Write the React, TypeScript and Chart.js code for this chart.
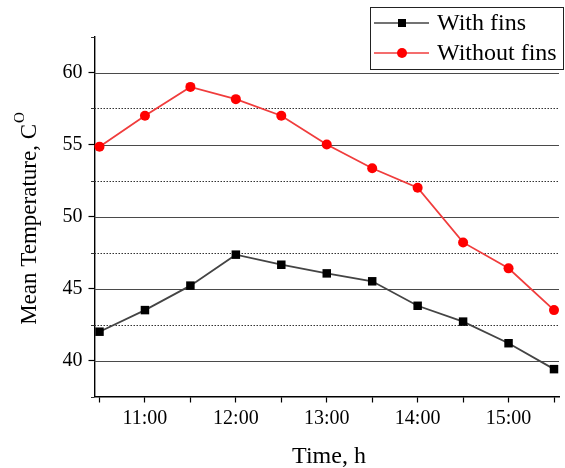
import React, { useEffect, useRef } from "react";
import { Chart, registerables } from "chart.js";

Chart.register(...registerables);

const FONT = '"Liberation Serif", "Times New Roman", serif';

// Data
const timeHours = [10.5, 11, 11.5, 12, 12.5, 13, 13.5, 14, 14.5, 15, 15.5];
const withFins = [42.0, 43.5, 45.2, 47.35, 46.65, 46.05, 45.5, 43.8, 42.7, 41.2, 39.4];
const withoutFins = [54.85, 57.0, 59.0, 58.15, 57.0, 55.0, 53.35, 52.0, 48.2, 46.4, 43.5];
const seriesNames = ["With fins", "Without fins"];
const yMajorTicks = [40, 45, 50, 55, 60];
const yMinorTicks = [37.5, 42.5, 47.5, 52.5, 57.5, 62.5];
const xTitle = "Time, h";
const yTitle = "Mean Temperature, C";
const yTitleSup = "O";

const BLACK_LINE = "#444444";
const RED_LINE = "#f03c3c";

const gridPlugin = {
  id: "customGrid",
  beforeDatasetsDraw(chart: any) {
    const { ctx, chartArea } = chart;
    const y = chart.scales.y;
    ctx.save();
    // major solid
    ctx.lineWidth = 1.2;
    ctx.strokeStyle = "#4a4a4a";
    ctx.setLineDash([]);
    for (const v of yMajorTicks) {
      const py = Math.round(y.getPixelForValue(v)) + 0.5;
      ctx.beginPath();
      ctx.moveTo(chartArea.left, py);
      ctx.lineTo(chartArea.right, py);
      ctx.stroke();
    }
    // minor dotted
    ctx.lineWidth = 1;
    ctx.strokeStyle = "#333333";
    for (const v of yMinorTicks) {
      const py = Math.round(y.getPixelForValue(v)) + 0.5;
      if (v > 37.6 && v < 62.4) {
        ctx.setLineDash([1.5, 1.5]);
        ctx.beginPath();
        ctx.moveTo(chartArea.left, py);
        ctx.lineTo(chartArea.right, py);
        ctx.stroke();
      }
      ctx.setLineDash([]);
      ctx.beginPath();
      ctx.moveTo(chartArea.left - 3.5, py);
      ctx.lineTo(chartArea.left, py);
      ctx.stroke();
    }
    ctx.restore();
  },
  afterDraw(chart: any) {
    const { ctx } = chart;
    ctx.save();
    ctx.fillStyle = "#000";
    // x title
    ctx.font = `24px ${FONT}`;
    ctx.textAlign = "center";
    ctx.textBaseline = "alphabetic";
    ctx.fillText(xTitle, 329, 463);
    // y title with superscript
    ctx.font = `23px ${FONT}`;
    const wMain = ctx.measureText(yTitle).width;
    ctx.font = `15px ${FONT}`;
    const wSup = ctx.measureText(yTitleSup).width;
    const total = wMain + wSup + 1;
    ctx.translate(36, 218.5);
    ctx.rotate(-Math.PI / 2);
    ctx.textAlign = "left";
    ctx.font = `23px ${FONT}`;
    ctx.fillText(yTitle, -total / 2, 0);
    ctx.font = `15px ${FONT}`;
    ctx.fillText(yTitleSup, -total / 2 + wMain + 1, -12);
    ctx.restore();

    // legend
    ctx.save();
    const bx = 370.5, by = 7.5, bw = 193, bh = 62;
    ctx.fillStyle = "#fff";
    ctx.fillRect(bx, by, bw, bh);
    ctx.strokeStyle = "#222";
    ctx.lineWidth = 1;
    ctx.strokeRect(bx, by, bw, bh);
    const rows = [
      { name: seriesNames[0], color: BLACK_LINE, marker: "rect", mcolor: "#000", cy: 23 },
      { name: seriesNames[1], color: RED_LINE, marker: "circle", mcolor: "#ff0000", cy: 53 },
    ];
    for (const r of rows) {
      ctx.strokeStyle = r.color;
      ctx.lineWidth = 1.6;
      ctx.beginPath();
      ctx.moveTo(374, r.cy);
      ctx.lineTo(429, r.cy);
      ctx.stroke();
      ctx.fillStyle = r.mcolor;
      if (r.marker === "rect") {
        ctx.fillRect(402 - 4, r.cy - 4, 8, 8);
      } else {
        ctx.beginPath();
        ctx.arc(402, r.cy, 5, 0, Math.PI * 2);
        ctx.fill();
      }
      ctx.fillStyle = "#000";
      ctx.font = `24px ${FONT}`;
      ctx.textAlign = "left";
      ctx.textBaseline = "middle";
      ctx.fillText(r.name, 437, r.cy + 1);
    }
    ctx.restore();
  },
};

export default function App() {
  const ref = useRef<HTMLCanvasElement | null>(null);
  useEffect(() => {
    if (!ref.current) return;
    const chart = new Chart(ref.current, {
      type: "line",
      data: {
        datasets: [
          {
            label: seriesNames[0],
            data: timeHours.map((t, i) => ({ x: t, y: withFins[i] })),
            borderColor: BLACK_LINE,
            backgroundColor: "#000",
            pointBackgroundColor: "#000",
            pointBorderColor: "#000",
            pointStyle: "rect",
            pointRadius: 6,
            pointBorderWidth: 0,
            borderWidth: 1.8,
            tension: 0,
            clip: false,
          },
          {
            label: seriesNames[1],
            data: timeHours.map((t, i) => ({ x: t, y: withoutFins[i] })),
            borderColor: RED_LINE,
            backgroundColor: "#ff0000",
            pointBackgroundColor: "#ff0000",
            pointBorderColor: "#ff0000",
            pointStyle: "circle",
            pointRadius: 5,
            pointBorderWidth: 0,
            borderWidth: 1.8,
            tension: 0,
            clip: false,
          },
        ],
      },
      options: {
        animation: false,
        responsive: false,
        devicePixelRatio: 1,
        layout: { padding: { top: 36.5, right: 1, left: 0, bottom: 0 } },
        plugins: { legend: { display: false }, tooltip: { enabled: false } },
        scales: {
          x: {
            type: "linear",
            min: 10.445,
            max: 15.555,
            afterBuildTicks: (s: any) => {
              s.ticks = timeHours.map((v) => ({ value: v }));
            },
            afterFit: (s: any) => {
              s.height = 71.5;
            },
            grid: {
              display: true,
              drawOnChartArea: false,
              drawTicks: true,
              tickLength: 6,
              tickColor: "#000",
              tickWidth: 1.2,
            },
            border: { display: true, color: "#000", width: 1.4 },
            ticks: {
              autoSkip: false,
              maxRotation: 0,
              padding: 4,
              color: "#000",
              font: { family: FONT, size: 20 },
              callback: (v: any) => (Number.isInteger(Number(v)) ? `${v}:00` : ""),
            },
          },
          y: {
            type: "linear",
            min: 37.5,
            max: 62.5,
            afterBuildTicks: (s: any) => {
              s.ticks = yMajorTicks.map((v) => ({ value: v }));
            },
            afterFit: (s: any) => {
              s.width = 94.5;
            },
            grid: {
              display: true,
              drawOnChartArea: false,
              drawTicks: true,
              tickLength: 6,
              tickColor: "#000",
              tickWidth: 1.2,
            },
            border: { display: true, color: "#000", width: 1.4 },
            ticks: {
              padding: 6,
              color: "#000",
              font: { family: FONT, size: 20 },
              callback: (v: any) => `${v}`,
            },
          },
        },
      },
      plugins: [gridPlugin],
    } as any);
    return () => chart.destroy();
  }, []);
  return (
    <div style={{ position: "absolute", left: 0, top: 0, width: 565, height: 468, background: "#fff" }}>
      <canvas ref={ref} width={565} height={468} style={{ width: 565, height: 468 }} />
    </div>
  );
}
